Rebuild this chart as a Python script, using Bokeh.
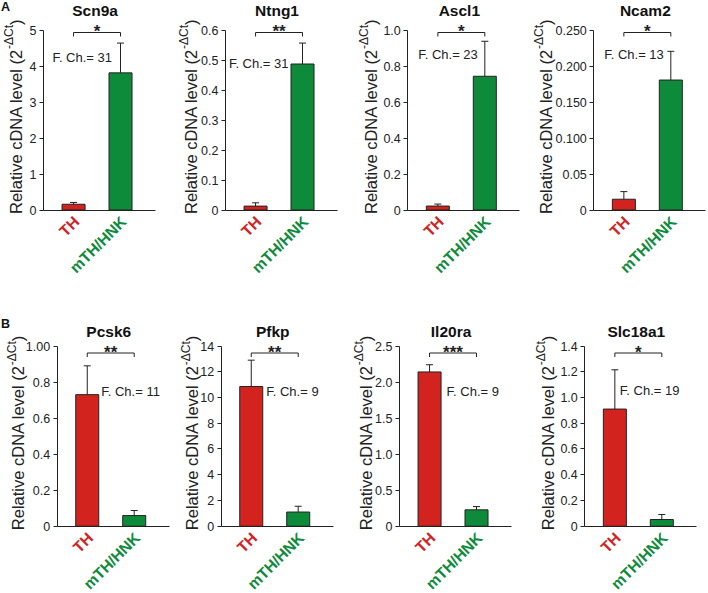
import math
from bokeh.plotting import figure
from bokeh.models import (Range1d, FixedTicker, Label, Whisker, TeeHead, ColumnDataSource,
                          LinearAxis, Grid)
from bokeh.layouts import row, column
from bokeh.embed import file_html
from bokeh.resources import INLINE

# ---------------- data ----------------
genes = ["Scn9a", "Ntng1", "Ascl1", "Ncam2", "Pcsk6", "Pfkp", "Il20ra", "Slc18a1"]
groups = ["TH", "mTH/HNK"]
th_mean = [0.16, 0.013, 0.022, 0.015, 0.73, 10.85, 2.14, 0.91]
th_err = [0.05, 0.011, 0.011, 0.0106, 0.16, 2.05, 0.10, 0.305]
mth_mean = [3.82, 0.488, 0.745, 0.181, 0.059, 1.10, 0.227, 0.052]
mth_err = [0.83, 0.07, 0.195, 0.040, 0.028, 0.45, 0.045, 0.039]
fold_change = [31, 31, 23, 13, 11, 9, 9, 19]
significance = ["*", "**", "*", "*", "**", "**", "***", "*"]
ytick_labels = [
    ["0", "1", "2", "3", "4", "5"],
    ["0", "0.1", "0.2", "0.3", "0.4", "0.5", "0.6"],
    ["0", "0.2", "0.4", "0.6", "0.8", "1.0"],
    ["0", "0.05", "0.100", "0.150", "0.200", "0.250"],
    ["0", "0.2", "0.4", "0.6", "0.8", "1.00"],
    ["0", "2", "4", "6", "8", "10", "12", "14"],
    ["0", "0.5", "1.0", "1.5", "2.0", "2.5"],
    ["0", "0.2", "0.4", "0.6", "0.8", "1.0", "1.2", "1.4"],
]
panel_letters = ["A", "B"]
ylabel_main, ylabel_sup, ylabel_end = "Relative cDNA level (2", "-\u0394Ct", ")"

# ---------------- style / layout (pixels) ----------------
FONT = "Liberation Sans"
RED = "#d2231f"
GREEN = "#0e8b3a"
INK = "#222222"
group_colors = [RED, GREEN]

fig_w = [175, 175, 175, 183]
row_h = [298, 295]
row_top = [18, 42]             # figure top -> plot-area top
row_bottom = [88.5, 67.3]      # baseline -> figure bottom
row_head = [12, 5.5]           # plot-area top -> top tick
row_bracket = [2, 7]           # bracket below top tick
row_title_y = [199.5, 194.7]   # above baseline
row_letter_y = [202.8, 201.9]
AREA_W = 112
XMIN, XMAX = -0.64, 1.745
left_border = [43, 50, 57.3, 68.3, 56.7, 45.7, 49, 59.3]
ylabel_off = [28, 35, 37, 48, 39, 29, 34, 37]
fc_pos = [(-8.5, 0.85), (-14, 0.815), (-7, 0.865), (-7, 0.865),
          (14, 0.75), (15, 0.75), (17, 0.75), (5, 0.755)]

ARIAL = {'R': 722, 'e': 556, 'l': 222, 'a': 556, 't': 278, 'i': 222, 'v': 500, ' ': 278,
         'c': 500, 'D': 722, 'N': 722, 'A': 667, '(': 333, '2': 556, ')': 333, '-': 333,
         '\u0394': 668, 'C': 722}


def text_w(s, size):
    return sum(ARIAL.get(ch, 556) for ch in s) / 1000 * size


def make_panel(i):
    r = i // 4
    c = i % 4
    W = fig_w[c]
    H = row_h[r]
    L = left_border[i]
    B = row_bottom[r]
    ticks = [float(s) for s in ytick_labels[i]]
    ymax = ticks[-1]
    area_h = H - row_top[r] - B
    ppu_y = (area_h - row_head[r]) / ymax
    ppu_x = AREA_W / (XMAX - XMIN)
    x0 = XMIN - L / ppu_x
    x1 = x0 + W / ppu_x
    y0 = -B / ppu_y
    y1 = y0 + H / ppu_y

    p = figure(width=W, height=H, output_backend="svg", toolbar_location=None,
               x_range=Range1d(x0, x1), y_range=Range1d(y0, y1),
               x_axis_location=None, y_axis_location=None, min_border=0)
    p.outline_line_color = None
    p.background_fill_color = "white"
    p.border_fill_color = "white"
    for rr in list(p.center):
        if isinstance(rr, Grid):
            rr.visible = False

    # axes drawn at fixed data locations
    ya = LinearAxis(fixed_location=XMIN, bounds=(0, ymax), ticker=FixedTicker(ticks=ticks))
    ya.major_label_overrides = {t: s for t, s in zip(ticks, ytick_labels[i])}
    ya.major_tick_in = 0
    ya.major_tick_out = 4
    ya.minor_tick_line_color = None
    ya.axis_line_color = INK
    ya.major_tick_line_color = INK
    ya.major_label_text_color = INK
    ya.major_label_text_font = FONT
    ya.major_label_text_font_size = "12.5px"
    ya.major_label_standoff = 3
    p.add_layout(ya, "left")

    xa = LinearAxis(fixed_location=0, bounds=(XMIN, XMAX), ticker=FixedTicker(ticks=[]))
    xa.major_label_text_font_size = "0px"
    xa.major_tick_line_color = None
    xa.minor_tick_line_color = None
    xa.axis_line_color = INK
    p.add_layout(xa, "below")

    # bars + error bars
    src = ColumnDataSource(dict(
        x=[0, 1],
        top=[th_mean[i], mth_mean[i]],
        upper=[th_mean[i] + th_err[i], mth_mean[i] + mth_err[i]],
        color=group_colors,
    ))
    p.vbar(x="x", top="top", width=0.49, bottom=0, fill_color="color",
           line_color=INK, line_width=1, source=src)
    p.add_layout(Whisker(source=src, base="x", lower="top", upper="upper",
                         dimension="height", line_color=INK, line_width=1,
                         upper_head=TeeHead(size=7, line_color=INK, line_width=1),
                         lower_head=None, level="glyph"))

    # significance bracket
    b = ymax - row_bracket[r] / ppu_y
    d = 4 / ppu_y
    p.line(x=[0, 0, 1, 1], y=[b - d, b, b, b - d], line_color=INK, line_width=1)
    p.add_layout(Label(x=0.5, y=b, x_units="data", y_units="data", y_offset=1,
                       text=significance[i], text_align="center", text_baseline="middle",
                       text_font=FONT, text_font_size="17px", text_font_style="bold",
                       text_color=INK))

    # fold change
    dx, fy = fc_pos[i]
    fx = 1 if r == 0 else 0
    p.add_layout(Label(x=fx, y=fy * ymax, x_units="data", y_units="data", x_offset=dx,
                       text="F. Ch.= %d" % fold_change[i],
                       text_align="right" if r == 0 else "left", text_baseline="middle",
                       text_font=FONT, text_font_size="13px", text_color=INK))

    # title
    p.add_layout(Label(x=0.5, y=B + row_title_y[r], x_units="data", y_units="screen",
                       x_offset=-2, text=genes[i], text_align="center",
                       text_baseline="middle", text_font=FONT, text_font_size="15.5px",
                       text_font_style="bold", text_color="#111111"))

    # category labels (rotated, coloured)
    for k, g in enumerate(groups):
        p.add_layout(Label(x=k, y=B - 9, x_units="data", y_units="screen", x_offset=3,
                           text=g, angle=math.pi / 4, text_align="right",
                           text_baseline="middle", text_font=FONT, text_font_size="15.5px",
                           text_font_style="bold", text_color=group_colors[k]))

    # y axis label with superscript
    xl = L - ylabel_off[i]
    main_fs, sup_fs = 16.5, 12
    ys = B - 4
    p.add_layout(Label(x=xl, y=ys, x_units="screen", y_units="screen",
                       text=ylabel_main, angle=math.pi / 2, text_align="left",
                       text_baseline="alphabetic", text_font=FONT,
                       text_font_size="%spx" % main_fs, text_color=INK))
    ys2 = ys + text_w(ylabel_main, main_fs)
    p.add_layout(Label(x=xl - 6.5, y=ys2, x_units="screen", y_units="screen",
                       text=ylabel_sup, angle=math.pi / 2, text_align="left",
                       text_baseline="alphabetic", text_font=FONT,
                       text_font_size="%spx" % sup_fs, text_color=INK))
    ys3 = ys2 + text_w(ylabel_sup, sup_fs)
    p.add_layout(Label(x=xl, y=ys3, x_units="screen", y_units="screen",
                       text=ylabel_end, angle=math.pi / 2, text_align="left",
                       text_baseline="alphabetic", text_font=FONT,
                       text_font_size="%spx" % main_fs, text_color=INK))

    # panel letter
    if c == 0:
        p.add_layout(Label(x=0.5, y=B + row_letter_y[r], x_units="screen",
                           y_units="screen", text=panel_letters[r], text_align="left",
                           text_baseline="middle", text_font=FONT, text_font_size="12.5px",
                           text_font_style="bold", text_color="#111111"))
    return p


panels = [make_panel(i) for i in range(8)]
layout = column(row(*panels[:4]), row(*panels[4:]))
open("out.html", "w").write(file_html(layout, INLINE))
